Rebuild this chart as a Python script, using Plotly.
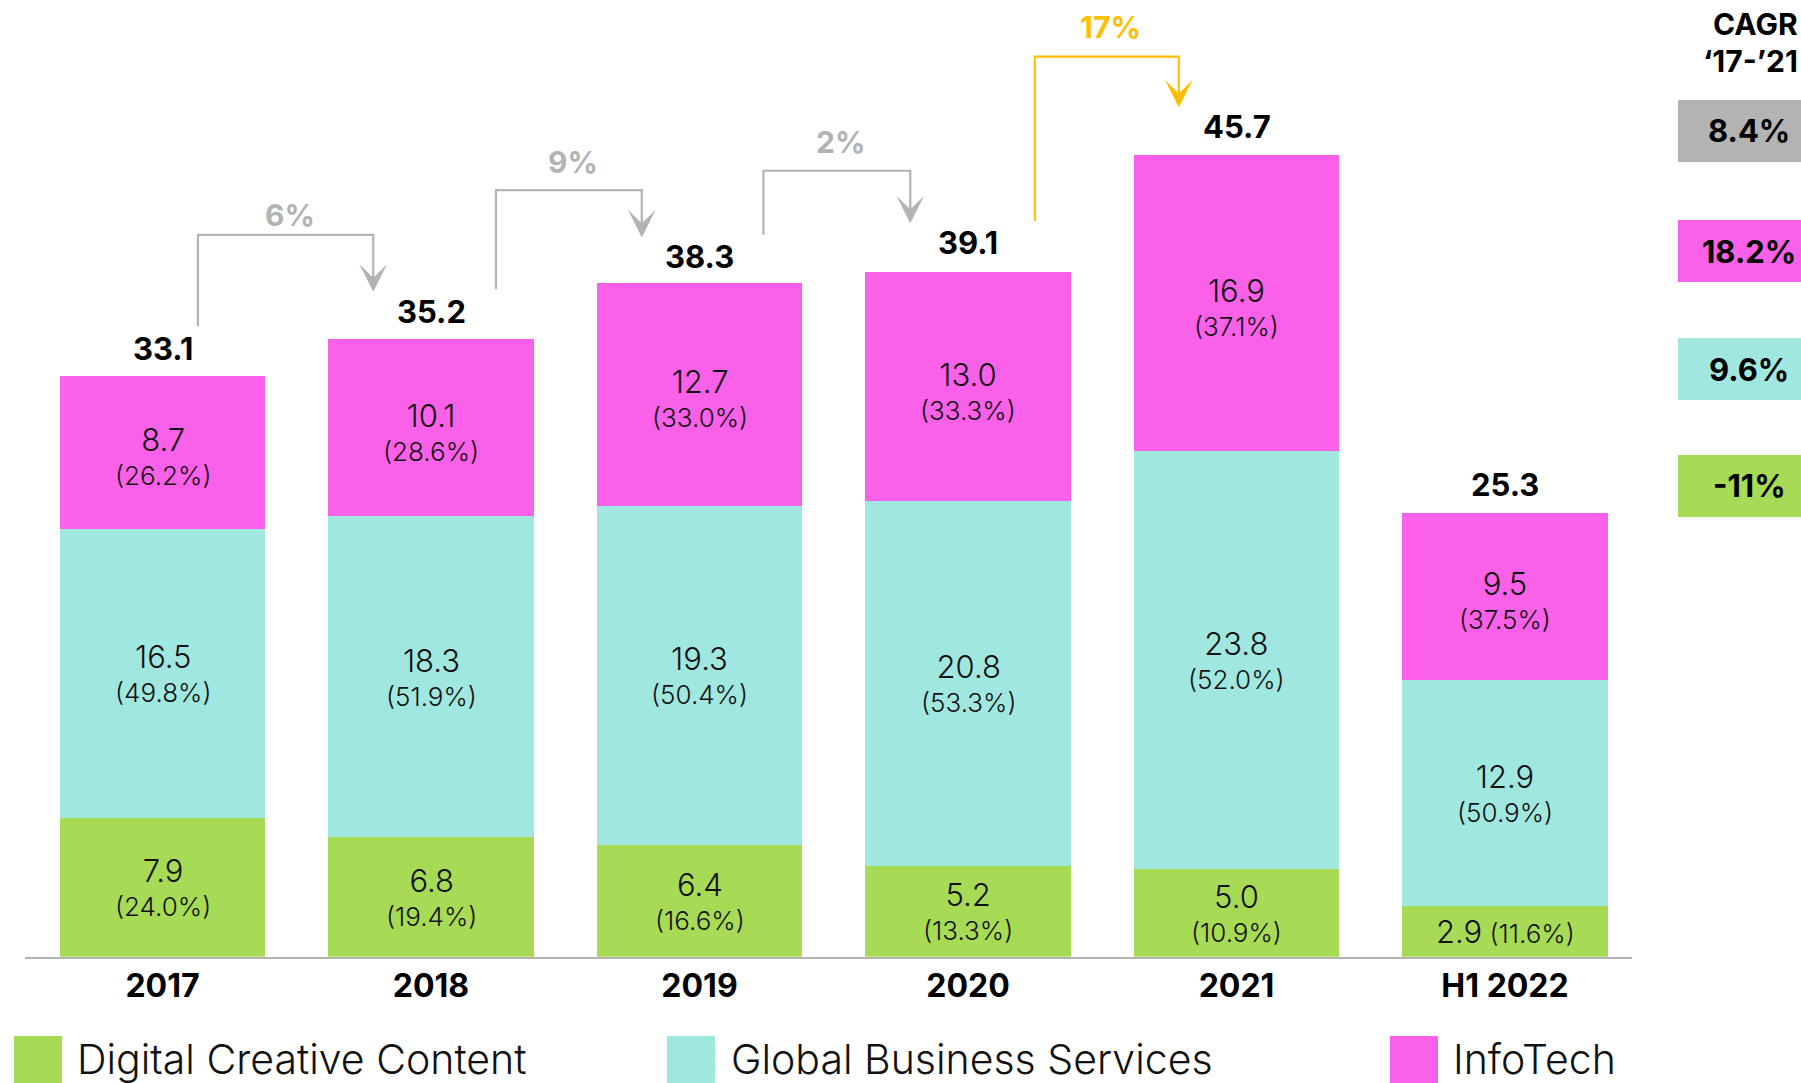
import plotly.graph_objects as go

# ---------------- data ----------------
periods = ["2017", "2018", "2019", "2020", "2021", "H1 2022"]
dcc_vals = [7.9, 6.8, 6.4, 5.2, 5.0, 2.9]
gbs_vals = [16.5, 18.3, 19.3, 20.8, 23.8, 12.9]
it_vals = [8.7, 10.1, 12.7, 13.0, 16.9, 9.5]
dcc_pct = [24.0, 19.4, 16.6, 13.3, 10.9, 11.6]
gbs_pct = [49.8, 51.9, 50.4, 53.3, 52.0, 50.9]
it_pct = [26.2, 28.6, 33.0, 33.3, 37.1, 37.5]
totals = [33.1, 35.2, 38.3, 39.1, 45.7, 25.3]

series_names = ["Digital Creative Content", "Global Business Services", "InfoTech"]
growth_labels = ["6%", "9%", "2%", "17%"]
cagr_labels = ["8.4%", "18.2%", "9.6%", "-11%"]

# ---------------- styles ----------------
GREEN = "#A7DB55"
TEAL = "#A0E8DF"
PINK = "#FA60E8"
GRAY = "#B3B3B3"
GOLD = "#FFBF00"
FONT = "Inter"
colors = [GREEN, TEAL, PINK]

W, H = 1801, 1083
x = list(range(len(periods)))

fig = go.Figure()
stack = [dcc_vals, gbs_vals, it_vals]
pcts = [dcc_pct, gbs_pct, it_pct]
for name, vals, col in zip(series_names, stack, colors):
    fig.add_trace(go.Bar(x=x, y=vals, name=name, marker=dict(color=col, line=dict(width=0)),
                         width=0.766, showlegend=False, hoverinfo="skip"))

annotations = []
shapes = []

# segment labels
for i in x:
    base = 0.0
    for k, (vals, pc) in enumerate(zip(stack, pcts)):
        v, p = vals[i], pc[i]
        mid = base + v / 2
        sep = " " if v < 4 else "<br>"
        txt = f"<span style='font-size:31px'>{v:.1f}</span>{sep}({p:.1f}%)"
        annotations.append(dict(x=i, y=mid, xref="x", yref="y", text=txt, showarrow=False,
                                font=dict(family=FONT, size=26, color="#111111", weight=300),
                                xanchor="center", yanchor="middle",
                                yshift=-4 if k == 2 else 0))
        base += v
    # totals
    annotations.append(dict(x=i, y=totals[i], xref="x", yref="y", text=f"<b>{totals[i]:.1f}</b>",
                            showarrow=False, yshift=28, yanchor="middle",
                            font=dict(family=FONT, size=31, color="#000000")))

# growth connectors (between consecutive years)
start_off = [0.132, 0.242, 0.238, 0.249]
end_off = -0.215
top_levels = [41.14, 43.70, 44.80, 51.30]
label_shift = [20, 28, 29, 30]
conn_colors = [GRAY, GRAY, GRAY, GOLD]
for k, lab in enumerate(growth_labels):
    xs = k + start_off[k]
    xe = k + 1 + end_off
    yb = totals[k] + 2.85
    yt = top_levels[k]
    ytip = totals[k + 1] + 2.7
    col = conn_colors[k]
    shapes.append(dict(type="path", xref="x", yref="y",
                       path=f"M {xs},{yb} L {xs},{yt} L {xe},{yt} L {xe},{ytip + 0.8}",
                       line=dict(color=col, width=2.2)))
    annotations.append(dict(x=xe, y=ytip, ax=xe, ay=ytip + 1.0, xref="x", yref="y",
                            axref="x", ayref="y", text="", showarrow=True, arrowhead=3,
                            arrowsize=2.1, arrowwidth=2.2, arrowcolor=col, standoff=0))
    annotations.append(dict(x=(xs + xe) / 2 + 0.015, y=yt, xref="x", yref="y", text=f"<b>{lab}</b>",
                            showarrow=False, yshift=label_shift[k], yanchor="middle",
                            font=dict(family=FONT, size=30, color=col)))

# CAGR panel
annotations.append(dict(x=1800 / W, y=1 - 24 / H, xref="paper", yref="paper", text="<b>CAGR</b>",
                        showarrow=False, xanchor="right", yanchor="middle",
                        font=dict(family=FONT, size=30, color="#000000")))
annotations.append(dict(x=1800 / W, y=1 - 61 / H, xref="paper", yref="paper",
                        text="<b>\u201817-\u201921</b>",
                        showarrow=False, xanchor="right", yanchor="middle",
                        font=dict(family=FONT, size=30, color="#000000")))
box_tops = [100, 220, 338, 455]
box_cols = [GRAY, PINK, TEAL, GREEN]
for lab, top, col in zip(cagr_labels, box_tops, box_cols):
    shapes.append(dict(type="rect", xref="paper", yref="paper", x0=1678 / W, x1=1.0,
                       y0=1 - (top + 62) / H, y1=1 - top / H, fillcolor=col, line=dict(width=0),
                       layer="below"))
    annotations.append(dict(x=1749 / W, y=1 - (top + 31) / H, xref="paper", yref="paper",
                            text=f"<b>{lab}</b>", showarrow=False, xanchor="center",
                            yanchor="middle", font=dict(family=FONT, size=31, color="#000000")))

# legend
leg_sq_x = [14, 667, 1390]
leg_tx_x = [75, 729, 1451]
for name, col, sx, tx in zip(series_names, colors, leg_sq_x, leg_tx_x):
    shapes.append(dict(type="rect", xref="paper", yref="paper", x0=sx / W, x1=(sx + 48) / W,
                       y0=0, y1=1 - 1036 / H, fillcolor=col, line=dict(width=0)))
    annotations.append(dict(x=tx / W, y=1 - 1059 / H, xref="paper", yref="paper", text=name,
                            showarrow=False, xanchor="left", yanchor="middle",
                            font=dict(family=FONT, size=41, color="#111111", weight=300)))

fig.update_layout(
    width=W, height=H, margin=dict(l=0, r=0, t=0, b=0),
    paper_bgcolor="white", plot_bgcolor="white",
    barmode="stack", bargap=0,
    xaxis=dict(domain=[25 / W, 1632 / W], range=[-0.5121, 5.4730], tickvals=x,
               ticktext=[f"<b>{p}</b>" for p in periods],
               showline=True, linecolor="#B4B4B4", linewidth=2, ticks="", showgrid=False,
               zeroline=False, tickfont=dict(family=FONT, size=32, color="#000000"),
               ticklabelstandoff=0, fixedrange=True),
    yaxis=dict(domain=[126.2 / H, 1], range=[0, 54.53], visible=False, showgrid=False,
               zeroline=False, fixedrange=True),
    annotations=annotations, shapes=shapes, showlegend=False,
)

fig.write_html("out.html", config={"displayModeBar": False},
               post_script="document.body.style.margin='0px';document.body.style.overflow='hidden';")
